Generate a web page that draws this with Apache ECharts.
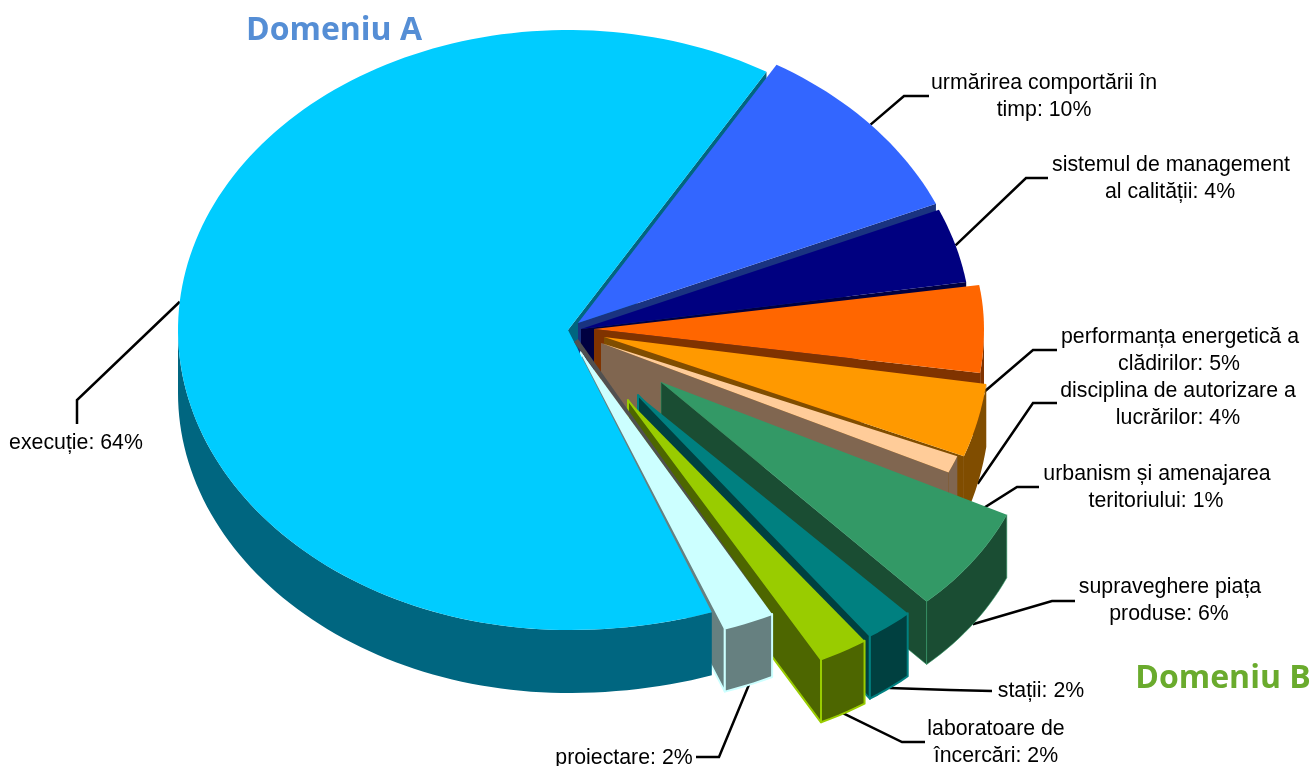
<!DOCTYPE html>
<html>
<head>
<meta charset="utf-8">
<style>
  html, body { margin: 0; background: #fff; }
  #chart { width: 1314px; height: 766px; }
</style>
<script src="https://cdn.jsdelivr.net/npm/echarts@6/dist/echarts.min.js"></script>
</head>
<body>
<div id="chart"></div>
<script>
// Data
const categories = ['execuție', 'urmărirea comportării în\ntimp', 'sistemul de management\nal calității', 'performanța energetică a\nclădirilor', 'disciplina de autorizare a\nlucrărilor', 'urbanism și amenajarea\nteritoriului', 'supraveghere piața\nproduse', 'stații', 'laboratoare de\nîncercări', 'proiectare'];
const values = [64, 10, 4, 5, 4, 1, 6, 2, 2, 2];
const groupTitles = ['Domeniu A', 'Domeniu B'];

// Look of the slices
const topColors = ['#00CCFF', '#3366FF', '#000080', '#FF6600', '#FF9900', '#FFCC99', '#339966', '#008080', '#99CC00', '#CCFFFF'];
const wallColors = ['#006680', '#1A3380', '#000040', '#803300', '#804D00', '#806650', '#1A4D33', '#004040', '#4D6600', '#668080'];
const edgeWidths = [0, 0, 0, 0, 0, 0, 0.6, 2, 2, 2];

// Where each slice's point ends up once pulled out of the pie, and how much it shrinks
const tips = [[568, 330], [578, 323], [581, 329], [594, 329], [604, 337], [601, 343], [661, 382], [638, 395], [628, 400], [581, 352]];
const shrinks = [[1, 1], [1, 1], [1, 1], [1, 0.94], [0.99, 1], [0.98, 0.95], [0.975, 0.975], [0.99, 0.97], [1.01, 0.97], [1, 0.98]];
const startAngle = -199.8;
const radiusX = 390;
const radiusY = 300;
const depth = 63;
const perspective = 0.1;

// Label layout: leader elbow, leader end, centre of each text line
const leaderElbows = [[77, 400], [904, 96], [1026, 178], [1033, 350], [1033, 403], [1017, 487], [1052, 601], [950, 690], [902, 742], [719, 757]];
const leaderEnds = [[77, 424], [929, 96], [1048, 178], [1057, 350], [1057, 403], [1039, 487], [1075, 601], [992, 691], [925, 742], [696, 757]];
const leaderFromWall = [false, false, false, true, true, true, true, true, true, true];
const labelLines = [[[76, 443]], [[1044, 83], [1044, 110]], [[1171, 165], [1170, 192]], [[1180, 337], [1179, 364]], [[1178, 391], [1178, 418]], [[1157, 474], [1156, 501]], [[1170, 587], [1169, 614]], [[1041, 691]], [[996, 729], [996, 756]], [[624, 758]]];

// Slice angles, clockwise from the top
const total = values.reduce((a, b) => a + b, 0);
let running = startAngle;
const angles = values.map(v => {
  const from = running;
  running += v / total * 360;
  return [from, running];
});

// Painting order. The big slice's top has to hide the walls of the pulled out
// slices near the middle, so it goes on late, the last slice's top after it.
const drawOrder = [
  [0, 'wall'], [1, 'all'], [2, 'all'], [3, 'all'], [4, 'all'], [5, 'all'], [6, 'all'], [7, 'all'], [8, 'all'],
  [9, 'wall'], [0, 'body'], [9, 'body']
];

const rim = (i, deg, drop = 0) => {
  const t = deg * Math.PI / 180;
  const s = Math.sin(t);
  const c = Math.cos(t);
  const widen = 1 + perspective * (c < 0 && s > 0 ? c * c : 0);
  return [tips[i][0] + radiusX * shrinks[i][0] * s * widen, tips[i][1] - radiusY * shrinks[i][1] * c + drop];
};

const arc = (i, from, to, drop = 0) => {
  const pts = [];
  const steps = Math.max(2, Math.ceil((to - from) / 1.5));
  for (let k = 0; k <= steps; k++) {
    pts.push(rim(i, from + (to - from) * k / steps, drop));
  }
  return pts;
};

const renderSlice = (params, api) => {
  const [i, part] = drawOrder[params.dataIndex];
  const [from, to] = angles[i];
  const children = [];
  const edge = edgeWidths[i] ? { stroke: topColors[i], lineWidth: edgeWidths[i], lineJoin: 'round' } : {};
  const poly = (points, fill) => children.push({
    type: 'polygon',
    shape: { points },
    style: Object.assign({ fill }, edge)
  });
  const tip = tips[i];

  // radial wall on the clockwise side
  if (part !== 'body') {
    poly([tip, rim(i, to), rim(i, to, depth), [tip[0], tip[1] + depth]], wallColors[i]);
  }

  if (part !== 'wall') {
    // outer wall, only the front half can be seen
    [[-270, -90], [90, 270]].forEach(([lo, hi]) => {
      const a = Math.max(from, lo);
      const b = Math.min(to, hi);
      if (b > a) {
        poly(arc(i, a, b).concat(arc(i, a, b, depth).reverse()), wallColors[i]);
      }
    });

    // the last slice has a thin dark sliver along its right edge
    if (i === values.length - 1) {
      const p0 = [tip[0] - 7, tip[1] - 10];
      children.push({
        type: 'polygon',
        shape: { points: [p0, [p0[0] + 4, p0[1] - 3], rim(i, from)] },
        style: { fill: '#505050' }
      });
    }

    // top face
    children.push({
      type: 'polygon',
      shape: { points: [tip].concat(arc(i, from, to)) },
      style: { fill: topColors[i] }
    });
  }
  return { type: 'group', children };
};

const renderLeader = (params, api) => {
  const i = params.dataIndex;
  const mid = (angles[i][0] + angles[i][1]) / 2;
  const start = rim(i, mid, leaderFromWall[i] ? depth : 0);
  return {
    type: 'polyline',
    shape: { points: [start, leaderElbows[i], leaderEnds[i]] },
    style: { stroke: '#000', lineWidth: 2.5, fill: null }
  };
};

// Text goes in as one element per line so each can sit where the picture has it
const textElements = [];
categories.forEach((name, i) => {
  const lines = (name + ': ' + values[i] + '%').split('\n');
  lines.forEach((line, j) => {
    textElements.push({
      type: 'text',
      x: labelLines[i][j][0],
      y: labelLines[i][j][1],
      z: 10,
      style: { text: line, fill: '#000', font: '21.3px "Liberation Sans"', align: 'center', verticalAlign: 'middle' }
    });
  });
});
textElements.push({
  type: 'text', x: 334, y: 31, z: 10,
  style: { text: groupTitles[0], fill: '#558ED5', font: 'bold 32px "Open Sans"', align: 'center', verticalAlign: 'middle' }
});
textElements.push({
  type: 'text', x: 1223, y: 679, z: 10,
  style: { text: groupTitles[1], fill: '#6AAB2D', font: 'bold 32px "Open Sans"', align: 'center', verticalAlign: 'middle' }
});

const option = {
  animation: false,
  backgroundColor: '#fff',
  graphic: { elements: textElements },
  series: [
    { type: 'custom', name: 'leaders', coordinateSystem: 'none', silent: true, z: 1, data: values, renderItem: renderLeader },
    { type: 'custom', name: 'slices', coordinateSystem: 'none', silent: true, z: 2, data: drawOrder.map(d => values[d[0]]), renderItem: renderSlice }
  ]
};

const myChart = echarts.init(document.getElementById('chart'));
myChart.setOption(option);
</script>
</body>
</html>
